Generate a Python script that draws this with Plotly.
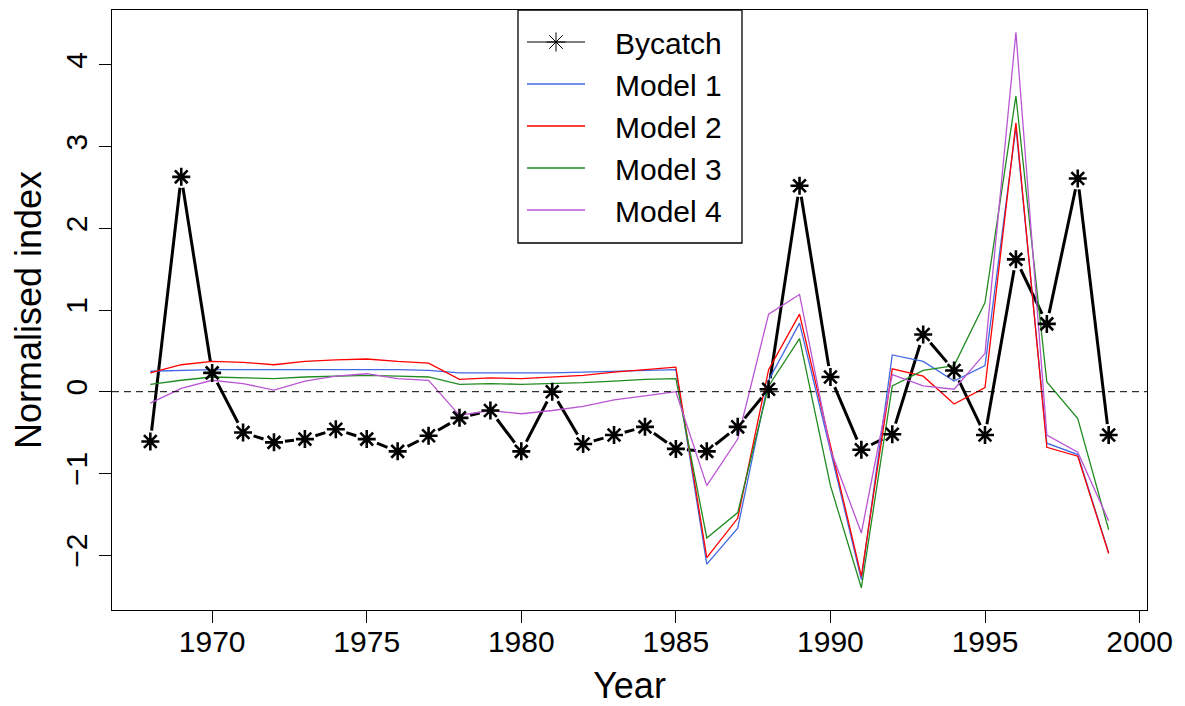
import math
import plotly.graph_objects as go

years = list(range(1968, 2000))

bycatch = [-0.61, 2.63, 0.23, -0.50, -0.62, -0.58, -0.46, -0.58, -0.73, -0.54,
           -0.32, -0.23, -0.73, 0.00, -0.64, -0.53, -0.43, -0.70, -0.73, -0.43,
           0.03, 2.52, 0.18, -0.71, -0.52, 0.70, 0.26, -0.53, 1.62, 0.83,
           2.61, -0.53]
model1 = [0.25, 0.26, 0.27, 0.27, 0.27, 0.27, 0.27, 0.27, 0.27, 0.26,
          0.23, 0.23, 0.23, 0.23, 0.24, 0.25, 0.26, 0.27, -2.11, -1.67,
          0.14, 0.84, -0.72, -2.30, 0.45, 0.37, 0.13, 0.32, 3.24, -0.63,
          -0.77, -1.97]
model2 = [0.23, 0.33, 0.37, 0.36, 0.33, 0.37, 0.39, 0.40, 0.37, 0.35,
          0.15, 0.17, 0.16, 0.18, 0.20, 0.24, 0.27, 0.30, -2.03, -1.55,
          0.27, 0.95, -0.66, -2.26, 0.28, 0.19, -0.15, 0.05, 3.29, -0.68,
          -0.79, -1.98]
model3 = [0.09, 0.14, 0.18, 0.17, 0.16, 0.18, 0.19, 0.20, 0.19, 0.18,
          0.09, 0.10, 0.09, 0.10, 0.11, 0.13, 0.15, 0.16, -1.79, -1.48,
          0.07, 0.65, -1.15, -2.40, 0.07, 0.26, 0.32, 1.09, 3.62, 0.12,
          -0.33, -1.69]
model4 = [-0.14, 0.04, 0.14, 0.10, 0.02, 0.13, 0.19, 0.22, 0.16, 0.14,
          -0.29, -0.23, -0.27, -0.23, -0.18, -0.10, -0.05, 0.00, -1.15, -0.58,
          0.95, 1.19, -0.71, -1.73, 0.21, 0.07, 0.03, 0.47, 4.40, -0.53,
          -0.74, -1.58]

models = [("Model 1", model1, "rgb(65,105,225)"),
          ("Model 2", model2, "rgb(255,0,0)"),
          ("Model 3", model3, "rgb(34,139,34)"),
          ("Model 4", model4, "rgb(186,85,211)")]

x_ticks = [1970, 1975, 1980, 1985, 1990, 1995, 2000]
y_ticks = [-2, -1, 0, 1, 2, 3, 4]

# the page body has an 8px margin, so the figure is 8px smaller and margins shifted
W, H = 1177, 698
ml, mr, mt, mb = 104, 38, 2, 96
plot_w = W - ml - mr
plot_h = H - mt - mb


# R style axis range: data range extended by 4% on each side
def r_range(vals):
    lo, hi = min(vals), max(vals)
    d = (hi - lo) * 0.04
    return [lo - d, hi + d]


xr = r_range(years)
yr = r_range(bycatch + model1 + model2 + model3 + model4)


# type="b" lines: leave a gap round every point
def gapped(xs, ys, r=11):
    sx = plot_w / (xr[1] - xr[0])
    sy = plot_h / (yr[1] - yr[0])
    gx, gy = [], []
    for i in range(len(xs) - 1):
        dx, dy = xs[i + 1] - xs[i], ys[i + 1] - ys[i]
        length = math.hypot(dx * sx, dy * sy)
        if length <= 2 * r:
            continue
        f = r / length
        gx += [xs[i] + dx * f, xs[i + 1] - dx * f, None]
        gy += [ys[i] + dy * f, ys[i + 1] - dy * f, None]
    return gx, gy


fig = go.Figure()

gx, gy = gapped(years, bycatch)
fig.add_trace(go.Scatter(x=gx, y=gy, mode="lines", showlegend=False,
                         line=dict(color="black", width=3), hoverinfo="skip"))
# markers sit on the second x axis (same scale), which carries the long ticks
fig.add_trace(go.Scatter(x=years, y=bycatch, mode="markers", showlegend=False, xaxis="x2",
                         marker=dict(symbol="asterisk-open", size=15, color="black",
                                     line=dict(color="black", width=2.6))))
# legend entry only
pad = "\u00a0" * 3
fig.add_trace(go.Scatter(x=[None], y=[None], mode="lines+markers", name=pad + "Bycatch",
                         line=dict(color="black", width=1),
                         marker=dict(symbol="asterisk-open", size=16, color="black",
                                     line=dict(color="black", width=1))))

for name, vals, col in models:
    fig.add_trace(go.Scatter(x=years, y=vals, mode="lines", name=pad + name,
                             line=dict(color=col, width=1.3)))

fig.add_hline(y=0, line=dict(color="black", width=1, dash="7px,5px"))

# legend frame (in plot pixels: 406..630 across, 0..233 down)
fig.add_shape(type="rect", xref="paper", yref="paper",
              x0=406 / plot_w, x1=630 / plot_w, y0=1 - 233 / plot_h, y1=1,
              line=dict(color="black", width=1.3), fillcolor="white", layer="above")

font = "Liberation Sans, Arial, Helvetica, sans-serif"
fig.update_layout(
    width=W, height=H,
    margin=dict(l=ml, r=mr, t=mt, b=mb),
    paper_bgcolor="white", plot_bgcolor="white",
    font=dict(family=font, size=30, color="black"),
    showlegend=True,
    legend=dict(x=410 / plot_w, y=1 - 6 / plot_h, xanchor="left", yanchor="top",
                bgcolor="rgba(0,0,0,0)", borderwidth=0,
                font=dict(size=30), itemwidth=58, tracegroupgap=0),
    xaxis=dict(range=xr, tickvals=x_ticks, ticks="outside", ticklen=5, tickwidth=1,
               tickcolor="black", showgrid=False, zeroline=False, automargin=False,
               showline=True, linecolor="black", linewidth=1.3, mirror=True,
               title=dict(text="Year", standoff=20)),
    xaxis2=dict(range=xr, matches="x", overlaying="x", side="bottom", anchor="y",
                tickvals=x_ticks, ticks="outside", ticklen=12, tickwidth=1,
                tickcolor="black", showticklabels=False, showgrid=False,
                zeroline=False, showline=False, automargin=False),
    yaxis=dict(range=yr, tickvals=y_ticks,
               ticktext=[str(v).replace("-", "\u2212") for v in y_ticks],
               ticks="outside", ticklen=12, tickwidth=1, tickangle=-90,
               tickcolor="black", showgrid=False, zeroline=False, automargin=False,
               showline=True, linecolor="black", linewidth=1.3, mirror=True,
               title=dict(text="Normalised index", standoff=15)),
)

fig.write_html("out.html")
